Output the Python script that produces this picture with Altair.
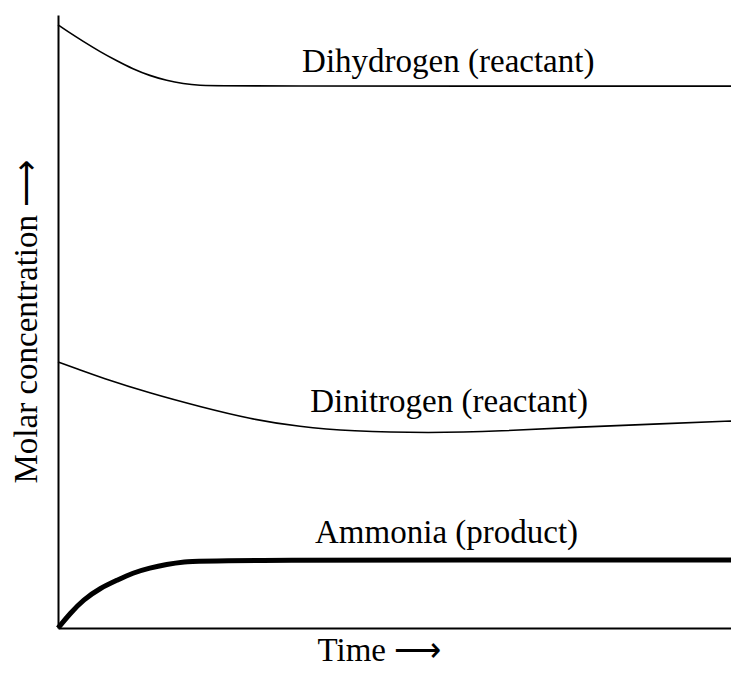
import altair as alt
import pandas as pd

# Values (arbitrary units: time 0-100, concentration 0-100)
h2_time = [0, 1.3, 3.7, 6.2, 8.7, 11.0, 13.5, 16.0, 18.4, 20.9, 23.4, 100]
h2_conc = [98.4, 97.4, 95.7, 94.0, 92.5, 91.2, 90.1, 89.3, 88.8, 88.5, 88.4, 88.4]

n2_time = [0, 3.2, 6.2, 13.5, 20.9, 28.2, 35.6, 42.9, 54.7, 65.0, 76.8, 88.5, 100]
n2_conc = [43.4, 42.1, 40.9, 38.3, 36.1, 34.1, 32.8, 32.1, 31.8, 32.1, 32.8, 33.3, 33.8]

nh3_time = [0, 1.8, 3.7, 6.2, 8.7, 11.0, 13.5, 16.0, 18.4, 21.9, 100]
nh3_conc = [0, 2.4, 4.6, 6.5, 7.8, 9.0, 9.8, 10.4, 10.8, 11.1, 11.1]

label_text = ["Dihydrogen (reactant)", "Dinitrogen (reactant)", "Ammonia (product)"]
label_time = [35.9, 37.1, 37.8]
label_conc = [90.7, 35.2, 13.9]

FONT = "Liberation Serif"

def frame(t, c, name):
    return pd.DataFrame({"time": t, "conc": c, "species": name})

thin = pd.concat([frame(h2_time, h2_conc, "H2"), frame(n2_time, n2_conc, "N2")])
thick = frame(nh3_time, nh3_conc, "NH3")
labels = pd.DataFrame({"text": label_text, "time": label_time, "conc": label_conc})

# the visible window cuts the time axis a little before its end
xs = alt.Scale(domain=[0, 98.97], nice=False, zero=False)
ys = alt.Scale(domain=[0, 100], nice=False, zero=False)

xax = alt.Axis(
    title="Time  \u27f6", labels=False, ticks=False, grid=False,
    domainColor="black", domainWidth=2,
    titleFont=FONT, titleFontSize=33, titleFontWeight="normal", titleColor="black",
    titleAlign="left", titleBaseline="alphabetic", titleAngle=0,
    titleX=259, titleY=32,
)
yax = alt.Axis(
    title="Molar concentration  \u27f6", labels=False, ticks=False, grid=False,
    domainColor="black", domainWidth=2,
    titleFont=FONT, titleFontSize=33, titleFontWeight="normal", titleColor="black",
    titleAlign="left", titleBaseline="alphabetic", titleAngle=270,
    titleX=-22, titleY=468,
)

x = alt.X("time:Q", scale=xs, axis=xax)
y = alt.Y("conc:Q", scale=ys, axis=yax)

thin_lines = alt.Chart(thin).mark_line(
    color="black", strokeWidth=1.6, interpolate="basis"
).encode(x=x, y=y, detail="species:N")

thick_line = alt.Chart(thick).mark_line(
    color="black", strokeWidth=5, interpolate="basis"
).encode(x="time:Q", y="conc:Q")

text = alt.Chart(labels).mark_text(
    font=FONT, fontSize=33, color="black", align="left", baseline="alphabetic"
).encode(x="time:Q", y="conc:Q", text="text:N")

chart = alt.layer(thin_lines, thick_line, text).properties(
    width=673, height=613,
    autosize=alt.AutoSizeParams(type="none"),
    padding={"left": 50, "top": 7, "right": 0, "bottom": 39},
).configure_view(stroke=None)

chart.save("out.html", embed_options={"renderer": "svg", "actions": False})
